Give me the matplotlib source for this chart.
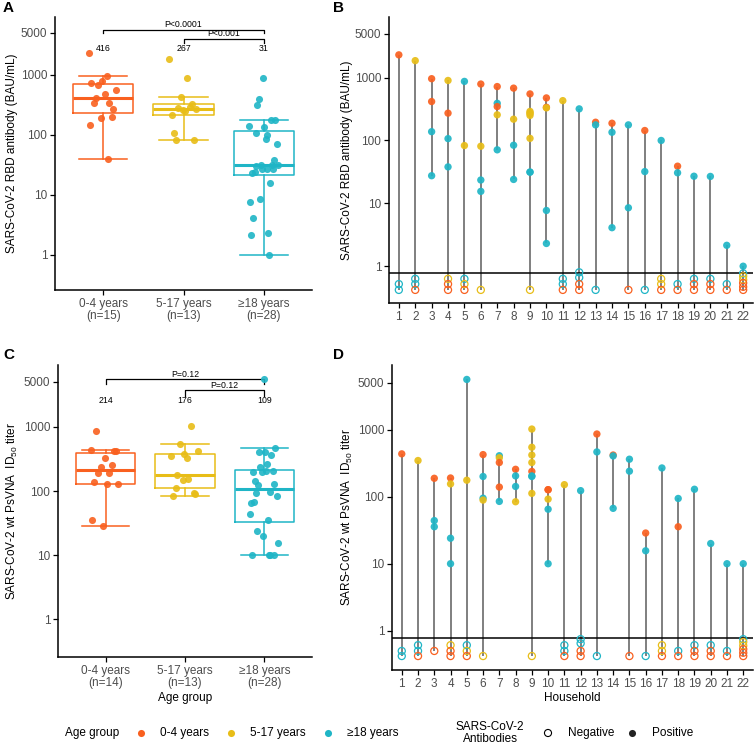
import numpy as np
import matplotlib
matplotlib.use('Agg')
import matplotlib.pyplot as plt

plt.rcParams['font.family'] = ['Liberation Sans', 'DejaVu Sans']
plt.rcParams['mathtext.fontset'] = 'custom'
plt.rcParams['mathtext.rm'] = 'Liberation Sans'
plt.rcParams['mathtext.default'] = 'regular'

GROUPS = ['0-4 years', '5-17 years', '≥18 years']
COLORS = ['#F9601F', '#E8BD17', '#1FB5C6']
TICK_GREY = '#4D4D4D'

# ---- RBD antibody (BAU/mL), positive samples: household, age group, value ----
rbd_house = [1, 2, 3, 3, 3, 3, 4, 4, 4, 4, 5, 5, 6, 6, 6, 6,
             7, 7, 7, 7, 7, 8, 8, 8, 8, 9, 9, 9, 9, 9, 9, 9, 9,
             10, 10, 10, 10, 10, 11, 12, 13, 13, 14, 14, 14, 15, 15,
             16, 16, 17, 18, 18, 19, 20, 21, 22]
rbd_group = [0, 1, 0, 0, 2, 2, 1, 0, 2, 2, 2, 1, 0, 1, 2, 2,
             0, 2, 0, 1, 2, 0, 1, 2, 2, 0, 1, 1, 1, 1, 1, 2, 2,
             0, 0, 1, 2, 2, 1, 2, 0, 2, 0, 2, 2, 2, 2,
             0, 2, 2, 0, 2, 2, 2, 2, 2]
rbd_value = [2300, 1860, 960, 416, 138, 27.5, 900, 272, 107, 38, 870, 83, 790, 81, 23.5, 15.5,
             720, 390, 346, 256, 71, 680, 218, 84, 24, 550, 290, 275, 267, 250, 108, 31.4, 31.4,
             475, 337, 330, 7.7, 2.3, 430, 318, 195, 177, 188, 135, 4.1, 177, 8.5,
             144, 32, 100, 39, 30.6, 27, 26.8, 2.15, 1.0]
# negative samples, shown stacked below the cut-off
rbd_neg_house = [1, 1, 2, 2, 2, 4, 4, 4, 5, 5, 5, 6, 9, 11, 11, 11, 12, 12, 12, 12,
                 13, 15, 16, 17, 17, 17, 18, 18, 19, 19, 19, 20, 20, 20, 21, 21,
                 22, 22, 22, 22, 22, 22]
rbd_neg_group = [2, 2, 2, 2, 0, 1, 0, 0, 2, 1, 0, 1, 1, 2, 2, 0, 2, 2, 0, 0,
                 2, 0, 2, 1, 1, 0, 2, 0, 2, 0, 0, 2, 0, 0, 2, 0,
                 2, 1, 1, 0, 0, 0]
rbd_neg_value = [0.52, 0.42, 0.63, 0.52, 0.42, 0.63, 0.52, 0.42, 0.63, 0.52, 0.42, 0.42, 0.42,
                 0.63, 0.52, 0.42, 0.80, 0.66, 0.52, 0.42,
                 0.42, 0.42, 0.42, 0.63, 0.52, 0.42, 0.52, 0.42, 0.63, 0.52, 0.42,
                 0.63, 0.52, 0.42, 0.52, 0.42,
                 0.77, 0.69, 0.61, 0.54, 0.47, 0.42]

# ---- wt PsVNA ID50 titer, positive samples ----
vna_house = [1, 2, 3, 3, 3, 4, 4, 4, 4, 5, 5, 6, 6, 6, 6,
             7, 7, 7, 7, 7, 8, 8, 8, 8, 9, 9, 9, 9, 9, 9, 9, 9,
             10, 10, 10, 10, 10, 11, 12, 13, 13, 14, 14, 14, 15, 15,
             16, 16, 17, 18, 18, 19, 20, 21, 22]
vna_group = [0, 1, 0, 2, 2, 0, 1, 2, 2, 2, 1, 0, 2, 2, 1,
             2, 1, 0, 0, 2, 0, 2, 2, 1, 1, 1, 1, 1, 0, 2, 2, 1,
             0, 0, 1, 2, 2, 1, 2, 0, 2, 0, 2, 2, 2, 2,
             0, 2, 2, 2, 0, 2, 2, 2, 2]
vna_value = [435, 346, 188, 44, 35.6, 190, 155, 24, 10, 5600, 176, 424, 200, 95, 89,
             408, 380, 323, 139, 85, 256, 204, 142, 84, 1020, 546, 418, 323, 238, 204, 200, 112,
             127, 127, 92, 65, 10, 151, 123, 860, 465, 418, 405, 67, 362, 240,
             28.7, 15.6, 268, 94, 35.6, 129, 20, 10, 10]
vna_neg_house = [1, 1, 2, 2, 2, 3, 4, 4, 4, 5, 5, 5, 6, 9, 11, 11, 11, 12, 12, 12, 12,
                 13, 15, 16, 17, 17, 17, 18, 18, 19, 19, 19, 20, 20, 20, 21, 21,
                 22, 22, 22, 22, 22, 22]
vna_neg_group = [2, 2, 2, 2, 0, 0, 1, 0, 0, 2, 1, 0, 1, 1, 2, 2, 0, 2, 2, 0, 0,
                 2, 0, 2, 1, 1, 0, 2, 0, 2, 0, 0, 2, 0, 0, 2, 0,
                 2, 1, 1, 0, 0, 0]
vna_neg_value = [0.50, 0.42, 0.61, 0.50, 0.42, 0.50, 0.61, 0.50, 0.42, 0.61, 0.50, 0.42, 0.42, 0.42,
                 0.61, 0.50, 0.42, 0.75, 0.65, 0.50, 0.42,
                 0.42, 0.42, 0.42, 0.61, 0.50, 0.42, 0.50, 0.42, 0.61, 0.50, 0.42,
                 0.61, 0.50, 0.42, 0.50, 0.42,
                 0.75, 0.68, 0.60, 0.53, 0.47, 0.42]

CUTOFF = 0.78
YTICKS = [1, 10, 100, 1000, 5000]
YLIM = (0.26, 9200)
P_RBD = ['P<0.0001', 'P<0.001']
P_VNA = ['P=0.12', 'P=0.12']

W, H = 754, 745


def rect(l, t, r, b):
    return [l / W, 1 - b / H, (r - l) / W, (b - t) / H]


def style_axis(ax):
    ax.set_yscale('log')
    ax.set_ylim(*YLIM)
    ax.set_yticks(YTICKS)
    ax.set_yticklabels([str(t) for t in YTICKS])
    ax.yaxis.set_minor_locator(plt.NullLocator())
    for s in ('top', 'right'):
        ax.spines[s].set_visible(False)
    for s in ('left', 'bottom'):
        ax.spines[s].set_linewidth(1.1)
    ax.tick_params(length=3.5, width=0.9, labelsize=8.5, labelcolor=TICK_GREY, pad=2)


def box_panel(ax, groups, values, med_y, brackets, pvals):
    counts = []
    for k in range(3):
        vals = np.array([v for g, v in zip(groups, values) if g == k])
        counts.append(len(vals))
        c = COLORS[k]
        ax.boxplot([vals], positions=[k + 1], widths=0.75, capwidths=0.6,
                   showfliers=False, manage_ticks=False,
                   boxprops=dict(color=c, lw=1.1), whiskerprops=dict(color=c, lw=1.1),
                   capprops=dict(color=c, lw=1.1), medianprops=dict(color=c, lw=2.2))
        off = ((np.arange(len(vals)) * 0.618) % 1 - 0.5) * 0.36
        ax.scatter(k + 1 + off, vals, s=26, color=c, alpha=0.9, lw=0, zorder=3)
        ax.text(k + 1, med_y, f'{np.median(vals):.0f}', ha='center', va='center',
                fontsize=6.3, color='black')
    for (x1, x2, ylo, ytop, ytxt), p in zip(brackets, pvals):
        ax.plot([x1, x1, x2, x2], [ylo, ytop, ytop, ylo], color='black', lw=0.9)
        ax.text((x1 + x2) / 2, ytxt, p, ha='center', va='center', fontsize=6.3)
    ax.set_xlim(0.4, 3.6)
    ax.set_xticks([1, 2, 3])
    ax.set_xticklabels([f'{g}\n(n={n})' for g, n in zip(GROUPS, counts)], linespacing=1.05)


def household_panel(ax, house, group, value, nhouse, ngroup, nvalue):
    hs = np.array(house + nhouse)
    vs = np.array(value + nvalue)
    ids = np.unique(hs)
    lo = [vs[hs == h].min() for h in ids]
    hi = [vs[hs == h].max() for h in ids]
    ax.vlines(ids, lo, hi, color='#7F7F7F', lw=1.4, zorder=1)
    ax.axhline(CUTOFF, color='black', lw=1.1, zorder=2)
    ax.scatter(house, value, s=28, c=[COLORS[g] for g in group], alpha=0.92, lw=0, zorder=3)
    ax.scatter(nhouse, nvalue, s=26, facecolors='none',
               edgecolors=[COLORS[g] for g in ngroup], lw=0.9, zorder=3)
    ax.set_xlim(0.4, 22.6)
    ax.set_xticks(range(1, 23))


fig = plt.figure(figsize=(W / 100, H / 100), dpi=100)

axA = fig.add_axes(rect(55, 17, 312, 290))
style_axis(axA)
box_panel(axA, rbd_group, rbd_value, 2700,
          [(1, 3, 4950, 5600, 7000), (2, 3, 3380, 3940, 4800)], P_RBD)

axB = fig.add_axes(rect(389, 17, 753, 303))
style_axis(axB)
household_panel(axB, rbd_house, rbd_group, rbd_value,
                rbd_neg_house, rbd_neg_group, rbd_neg_value)

axC = fig.add_axes(rect(58, 365, 312, 657))
style_axis(axC)
box_panel(axC, vna_group, vna_value, 2600,
          [(1, 3, 4650, 5560, 6500), (2, 3, 3050, 3740, 4380)], P_VNA)

axD = fig.add_axes(rect(392, 365, 753, 670))
style_axis(axD)
household_panel(axD, vna_house, vna_group, vna_value,
                vna_neg_house, vna_neg_group, vna_neg_value)

# axis titles
rbd_lab = 'SARS-CoV-2 RBD antibody (BAU/mL)'
vna_lab = 'SARS-CoV-2 wt PsVNA  ID$_{50}$ titer'
fig.text(12 / W, 1 - 153 / H, rbd_lab, rotation=90, ha='center', va='center', fontsize=8.5)
fig.text(347 / W, 1 - 160 / H, rbd_lab, rotation=90, ha='center', va='center', fontsize=8.5)
fig.text(12 / W, 1 - 511 / H, vna_lab, rotation=90, ha='center', va='center', fontsize=8.5)
fig.text(347 / W, 1 - 517 / H, vna_lab, rotation=90, ha='center', va='center', fontsize=8.5)
fig.text(185 / W, 1 - 698 / H, 'Age group', ha='center', va='center', fontsize=8.5)
fig.text(572 / W, 1 - 698 / H, 'Household', ha='center', va='center', fontsize=8.5)

for lab, x, y in [('A', 3, 8), ('B', 333, 8), ('C', 3, 355), ('D', 333, 355)]:
    fig.text(x / W, 1 - y / H, lab, fontsize=11, fontweight='bold', ha='left', va='center')

# legend row
lg = fig.add_axes([0, 0, 1, 1])
lg.set_xlim(0, W)
lg.set_ylim(H, 0)
lg.axis('off')
LY = 733
lg.text(65, LY, 'Age group', fontsize=8.5, va='center')
for c, g, xd in zip(COLORS, GROUPS, [141, 231, 328]):
    lg.scatter([xd], [LY], s=26, color=c, lw=0)
    lg.text(xd + 19, LY, g, fontsize=8.5, va='center')
lg.text(490, LY, 'SARS-CoV-2\nAntibodies', fontsize=8.5, ha='center', va='center', linespacing=1.1)
lg.scatter([548], [LY], s=26, facecolors='none', edgecolors='black', lw=0.8)
lg.text(568, LY, 'Negative', fontsize=8.5, va='center')
lg.scatter([632], [LY], s=26, color='#222222', lw=0)
lg.text(652, LY, 'Positive', fontsize=8.5, va='center')

fig.savefig('out.png', dpi=100, facecolor='white')
